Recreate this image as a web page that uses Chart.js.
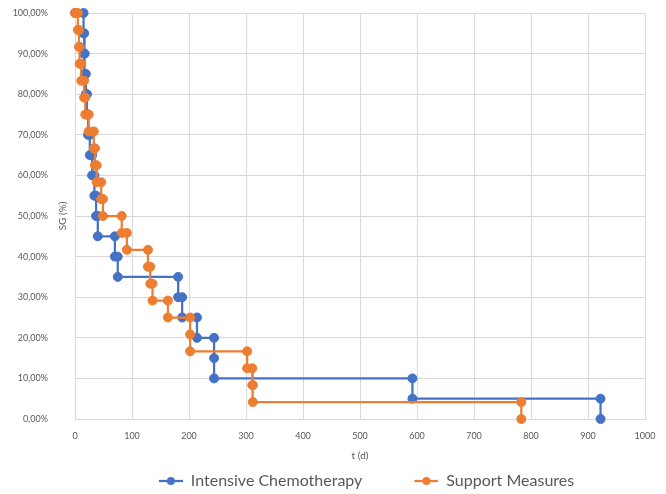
<!DOCTYPE html>
<html>
<head>
<meta charset="utf-8">
<script src="https://cdn.jsdelivr.net/npm/chart.js@4.4.1/dist/chart.umd.min.js"></script>
<style>
  html, body { margin: 0; padding: 0; background: #fff; }
  #wrap { width: 666px; height: 494px; }
</style>
</head>
<body>
<div id="wrap"><canvas id="survChart"></canvas></div>
<script>
// Intensive Chemotherapy: t (d) and SG (%) at each step point
const icTime = [0, 15, 15, 16, 16, 17, 17, 19, 19, 21,
                21, 23, 23, 26, 26, 30, 30, 34, 34, 37,
                37, 40, 40, 70, 70, 75, 75, 181, 181, 188,
                188, 214, 214, 244, 244, 244, 592, 592, 922, 922];
const icSurv = [100, 100, 95, 95, 90, 90, 85, 85, 80, 80,
                75, 75, 70, 70, 65, 65, 60, 60, 55, 55,
                50, 50, 45, 45, 40, 40, 35, 35, 30, 30,
                25, 25, 20, 20, 15, 10, 10, 5, 5, 0];

// Support Measures
const smTime = [0, 5, 5, 7, 7, 8, 8, 11, 11, 16,
                16, 18, 18, 24, 24, 33, 33, 35, 35, 38,
                38, 46, 46, 49, 49, 82, 82, 91, 91, 128,
                128, 132, 132, 136, 136, 163, 163, 202, 202, 202,
                302, 302, 311, 311, 312, 312, 783, 783];
const smSurv = [100, 100, 95.83, 95.83, 91.67, 91.67, 87.5, 87.5, 83.33, 83.33,
                79.17, 79.17, 75, 75, 70.83, 70.83, 66.67, 66.67, 62.5, 62.5,
                58.33, 58.33, 54.17, 54.17, 50, 50, 45.83, 45.83, 41.67, 41.67,
                37.5, 37.5, 33.33, 33.33, 29.17, 29.17, 25, 25, 20.83, 16.67,
                16.67, 12.5, 12.5, 8.33, 8.33, 4.17, 4.17, 0];

const seriesNames = ['Intensive Chemotherapy', 'Support Measures'];
const seriesColors = ['#4472C4', '#ED7D31'];

Chart.defaults.font.family = 'Lato, "Liberation Sans", sans-serif';
Chart.defaults.color = '#595959';

const toPoints = (xs, ys) => xs.map((x, i) => ({ x: x, y: ys[i] }));

// legend marker: short line with a dot, transparent space on the left
function legendMarker(color) {
  const c = document.createElement('canvas');
  c.width = 72; c.height = 12;
  const g = c.getContext('2d');
  g.strokeStyle = color;
  g.lineWidth = 2.25;
  g.beginPath(); g.moveTo(48, 6); g.lineTo(72, 6); g.stroke();
  g.fillStyle = color;
  g.beginPath(); g.arc(60, 6, 4, 0, Math.PI * 2); g.fill();
  return c;
}
const markers = seriesColors.map(legendMarker);

// y title sits between the tick labels and the axis
const yTitle = {
  id: 'yTitle',
  afterDraw(chart) {
    const { ctx, chartArea } = chart;
    ctx.save();
    ctx.translate(63, (chartArea.top + chartArea.bottom) / 2);
    ctx.rotate(-Math.PI / 2);
    ctx.font = '10px Lato';
    ctx.fillStyle = '#595959';
    ctx.textAlign = 'center';
    ctx.textBaseline = 'middle';
    ctx.fillText('SG (%)', 0, 0);
    ctx.restore();
  }
};

// nudge the legend a little right and down
const legendShift = {
  id: 'legendShift',
  afterLayout(chart) {
    const lg = chart.legend;
    lg.left += 20; lg.right += 20;
    lg.top += 5; lg.bottom += 5;
  }
};

function series(i, xs, ys, order) {
  return {
    label: seriesNames[i],
    data: toPoints(xs, ys),
    borderColor: seriesColors[i],
    backgroundColor: seriesColors[i],
    borderWidth: 2.25,
    pointRadius: 4.5,
    pointBorderWidth: 1,
    pointHoverRadius: 4.5,
    showLine: true,
    tension: 0,
    clip: false,
    order: order
  };
}

new Chart(document.getElementById('survChart'), {
  type: 'scatter',
  data: {
    datasets: [
      series(0, icTime, icSurv, 2),
      series(1, smTime, smSurv, 1)
    ]
  },
  options: {
    responsive: true,
    maintainAspectRatio: false,
    animation: false,
    events: [],
    layout: { padding: { left: 0, right: 21, top: 13, bottom: 0 } },
    scales: {
      x: {
        type: 'linear',
        min: 0, max: 1000,
        afterFit(scale) {
          scale.height = 45;
          scale.paddingLeft = 0; scale.paddingRight = 0;
        },
        ticks: { stepSize: 100, padding: 12, font: { size: 9 }, callback: v => String(v) },
        grid: { color: '#d9d9d9', drawTicks: false },
        border: { color: '#d9d9d9' },
        title: { display: true, text: 't (d)', font: { size: 10 }, padding: { top: 0, bottom: 2 } }
      },
      y: {
        min: 0, max: 100,
        afterFit(scale) {
          scale.width = 75;
          scale.paddingTop = 0; scale.paddingBottom = 0;
        },
        ticks: {
          stepSize: 10, padding: 27, font: { size: 9 },
          callback: v => v.toFixed(2).replace('.', ',') + '%'
        },
        grid: { color: '#d9d9d9', drawTicks: false },
        border: { color: '#d9d9d9' }
      }
    },
    plugins: {
      tooltip: { enabled: false },
      legend: {
        position: 'bottom',
        labels: {
          usePointStyle: true,
          pointStyleWidth: 72,
          padding: 4,
          color: '#595959',
          font: { size: 16 },
          sort: (a, b) => a.datasetIndex - b.datasetIndex,
          generateLabels(chart) {
            const items = Chart.defaults.plugins.legend.labels.generateLabels(chart);
            items.forEach(it => { it.pointStyle = markers[it.datasetIndex]; });
            return items;
          }
        }
      }
    }
  },
  plugins: [yTitle, legendShift]
});
</script>
</body>
</html>
